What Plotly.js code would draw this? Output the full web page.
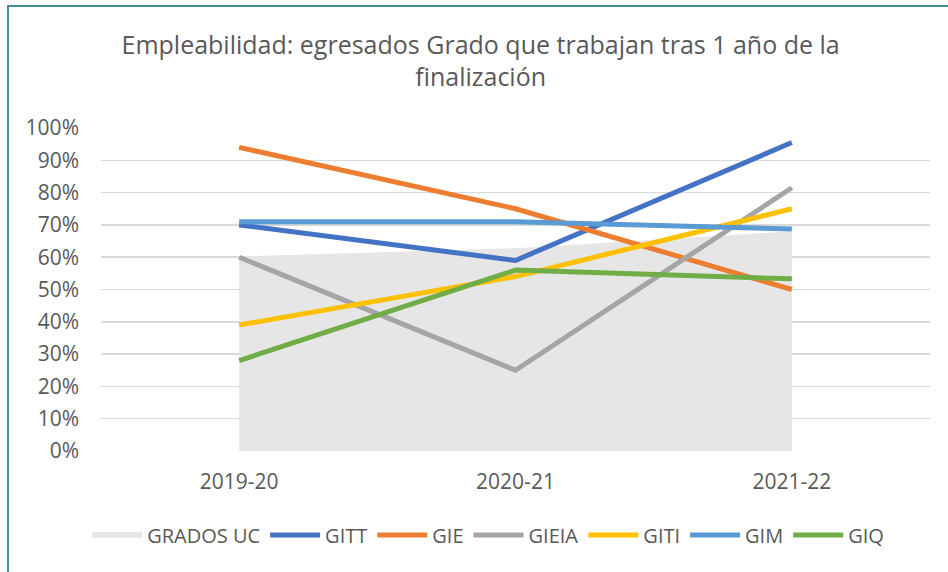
<!DOCTYPE html>
<html>
<head>
<meta charset="utf-8">
<script src="https://cdn.plot.ly/plotly-3.0.1.min.js"></script>
<style>
html,body{margin:0;padding:0;background:#fff;}
#frame{position:absolute;left:7px;top:5px;width:960px;height:600px;border-left:2px solid #3E9097;border-top:2px solid #3E9097;box-sizing:border-box;pointer-events:none;z-index:10;}
#chart{width:948px;height:572px;}
</style>
</head>
<body>
<div id="frame"></div>
<div id="chart"></div>
<script>
const categories = ["2019-20", "2020-21", "2021-22"];
const gradosUC = [0.602, 0.628, 0.68];
const gitt = [0.70, 0.59, 0.955];
const gie = [0.94, 0.75, 0.50];
const gieia = [0.60, 0.25, 0.815];
const giti = [0.39, 0.54, 0.75];
const gim = [0.71, 0.71, 0.687];
const giq = [0.28, 0.56, 0.533];
const yTicks = [0,0.1,0.2,0.3,0.4,0.5,0.6,0.7,0.8,0.9,1.0];

const lineSeries = [
  {name:"GITT", y:gitt, color:"#4472C4"},
  {name:"GIE", y:gie, color:"#ED7D31"},
  {name:"GIEIA", y:gieia, color:"#A5A5A5"},
  {name:"GITI", y:giti, color:"#FFC000"},
  {name:"GIM", y:gim, color:"#5B9BD5"},
  {name:"GIQ", y:giq, color:"#70AD47"}
];

const traces = [{
  type:"scatter", mode:"none", name:"GRADOS UC",
  x:categories, y:gradosUC, fill:"tozeroy", fillcolor:"#E6E6E6",
  hoverinfo:"skip"
}];
lineSeries.forEach(s => traces.push({
  type:"scatter", mode:"lines", name:s.name, x:categories, y:s.y,
  line:{color:s.color, width:5}, hoverinfo:"skip"
}));

const fontFam = "'Open Sans', sans-serif";
const layout = {
  width:948, height:572,
  paper_bgcolor:"#fff", plot_bgcolor:"#fff",
  margin:{l:101, r:18, t:128, b:121},
  font:{family:fontFam, color:"#595959", size:20},
  title:{text:"Empleabilidad: egresados Grado que trabajan tras 1 año de la<br>finalización",
    font:{family:fontFam, size:25, color:"#595959"}, x:0.507, xanchor:"center", y:0.906, yanchor:"top"},
  xaxis:{type:"category", range:[-0.5,2.5], showgrid:false, zeroline:false, showline:false,
    ticks:"", tickfont:{size:21, color:"#595959"}, ticklabelstandoff:16},
  yaxis:{range:[0,1.0], tickvals:yTicks, tickformat:".0%", showgrid:true, gridcolor:"#D9D9D9", gridwidth:1.5,
    zeroline:false, showline:false, ticks:"", tickfont:{size:21, color:"#595959"}, ticklabelstandoff:21},
  showlegend:true,
  legend:{orientation:"h", x:0.467, xanchor:"center", y:-0.26, yanchor:"middle",
    font:{size:20, color:"#595959"}, itemwidth:50, tracegroupgap:0, traceorder:"normal"},
  hovermode:false
};
Plotly.newPlot("chart", traces, layout, {displayModeBar:false, staticPlot:true});
</script>
</body>
</html>
